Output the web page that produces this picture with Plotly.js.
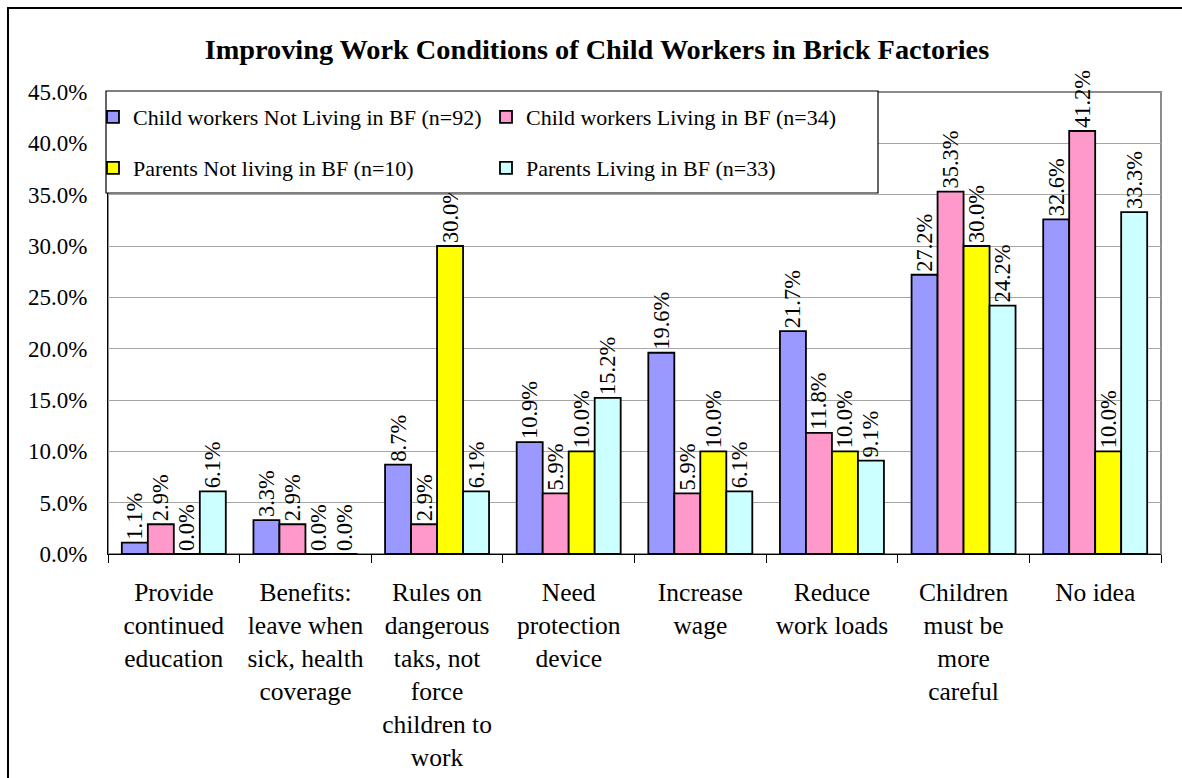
<!DOCTYPE html>
<html>
<head>
<meta charset="utf-8">
<script src="https://cdn.plot.ly/plotly-3.0.1.min.js"></script>
<style>
html,body{margin:0;padding:0;background:#fff;}
#wrap{position:relative;width:1182px;height:778px;overflow:hidden;}
#chart{position:absolute;left:0;top:0;width:1182px;height:778px;}
#frame{position:absolute;left:7px;top:7px;width:1200px;height:800px;border-top:2.5px solid #000;border-left:2.5px solid #000;pointer-events:none;}
</style>
</head>
<body>
<div id="wrap"><div id="chart"></div><div id="frame"></div></div>
<script>
var categories = [
  "Provide<br>continued<br>education",
  "Benefits:<br>leave when<br>sick, health<br>coverage",
  "Rules on<br>dangerous<br>taks, not<br>force<br>children to<br>work",
  "Need<br>protection<br>device",
  "Increase<br>wage",
  "Reduce<br>work loads",
  "Children<br>must be<br>more<br>careful",
  "No idea"
];
var seriesNames = [
  "Child workers Not Living in BF (n=92)",
  "Child workers Living in BF (n=34)",
  "Parents Not living in BF (n=10)",
  "Parents Living in BF (n=33)"
];
var childNotLiving = [0.011, 0.033, 0.087, 0.109, 0.196, 0.217, 0.272, 0.326];
var childLiving    = [0.029, 0.029, 0.029, 0.059, 0.059, 0.118, 0.353, 0.412];
var parentsNotLiving = [0.000, 0.000, 0.300, 0.100, 0.100, 0.100, 0.300, 0.100];
var parentsLiving  = [0.061, 0.000, 0.061, 0.152, 0.061, 0.091, 0.242, 0.333];
var yTickVals = [0, 0.05, 0.10, 0.15, 0.20, 0.25, 0.30, 0.35, 0.40, 0.45];

var colors = ["#9999FF", "#FF99CC", "#FFFF00", "#CCFFFF"];
var FONT = "Liberation Serif, Times New Roman, serif";
var allSeries = [childNotLiving, childLiving, parentsNotLiving, parentsLiving];
var legendIds = ["legend", "legend", "legend2", "legend2"];

var traces = allSeries.map(function(vals, i){
  return {
    type: "bar",
    name: seriesNames[i],
    x: categories,
    y: vals,
    legend: legendIds[i],
    marker: {color: colors[i], line: {color: "#000", width: 1.8}},
    texttemplate: "%{y:.1%}",
    textposition: "outside",
    textangle: -90,
    constraintext: "none",
    cliponaxis: false,
    textfont: {family: FONT, size: 22.5, color: "#000"},
    hoverinfo: "skip"
  };
});

var plotL = 108, plotR = 1161, plotT = 92, plotB = 554;
var pw = plotR - plotL, ph = plotB - plotT;
function px2x(p){ return (p - plotL) / pw; }
function px2y(p){ return 1 - (p - plotT) / ph; }

var legendCommon = {
  orientation: "h",
  bgcolor: "rgba(0,0,0,0)",
  borderwidth: 0,
  font: {family: FONT, size: 22, color: "#000"},
  entrywidth: 348,
  entrywidthmode: "pixels",
  xanchor: "center",
  yanchor: "middle",
  traceorder: "normal"
};

var layout = {
  width: 1182,
  height: 778,
  margin: {l: plotL, r: 1182 - plotR, t: plotT, b: 778 - plotB},
  paper_bgcolor: "#fff",
  plot_bgcolor: "#fff",
  barmode: "group",
  bargap: 0.21,
  bargroupgap: 0,
  showlegend: true,
  title: {
    text: "<b>Improving Work Conditions of Child Workers in Brick Factories</b>",
    font: {family: FONT, size: 28.3, color: "#000"},
    x: 0.505, xref: "container", xanchor: "center",
    y: 1 - 49 / 778, yref: "container", yanchor: "middle"
  },
  xaxis: {
    type: "category",
    tickson: "boundaries",
    ticks: "outside",
    ticklen: 8,
    tickcolor: "#000",
    tickwidth: 1,
    showline: true,
    linecolor: "#000",
    linewidth: 1,
    showgrid: false,
    ticklabelstandoff: 15,
    tickfont: {family: FONT, size: 25.5, color: "#000"},
    fixedrange: true
  },
  yaxis: {
    range: [0, 0.45],
    tickvals: yTickVals,
    tickformat: ".1%",
    showline: true,
    linecolor: "#000",
    linewidth: 1,
    showgrid: true,
    gridcolor: "#a6a6a6",
    gridwidth: 1,
    zeroline: false,
    ticks: "",
    ticklabelstandoff: 15,
    tickfont: {family: FONT, size: 23, color: "#000"},
    fixedrange: true
  },
  legend: Object.assign({}, legendCommon, {x: px2x(486), y: px2y(117)}),
  legend2: Object.assign({}, legendCommon, {x: px2x(486), y: px2y(168)}),
  shapes: [
    {type: "rect", xref: "paper", yref: "paper", x0: 0, x1: 1, y0: 0, y1: 1,
     line: {color: "#8c8c8c", width: 2}, fillcolor: "rgba(0,0,0,0)", layer: "below"},
    {type: "rect", xref: "paper", yref: "paper",
     x0: px2x(106), x1: px2x(878), y0: px2y(193), y1: px2y(91),
     line: {color: "#000", width: 1.2}, fillcolor: "#fff", layer: "above"}
  ]
};

Plotly.newPlot("chart", traces, layout, {displayModeBar: false, staticPlot: true});
</script>
</body>
</html>
